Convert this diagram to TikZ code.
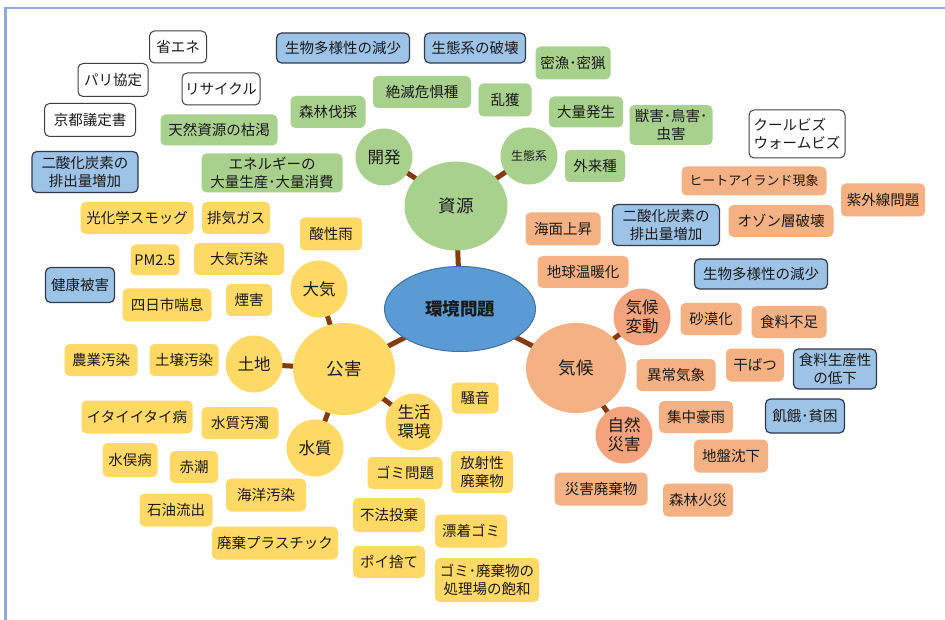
\documentclass[tikz,border=0pt]{standalone}
\usepackage{fontspec}
\newfontfamily\jp{Noto Sans CJK JP}
\usetikzlibrary{shapes.geometric,backgrounds}
\definecolor{gfill}{HTML}{A9D18E}
\definecolor{yfill}{HTML}{FFD966}
\definecolor{ofill}{HTML}{F4B183}
\definecolor{ocirc}{HTML}{F4A37C}
\definecolor{bfill}{HTML}{9DC3E6}
\definecolor{bdraw}{HTML}{2F3A4A}
\definecolor{conncol}{HTML}{843C0C}
\definecolor{efill}{HTML}{5B9BD5}
\definecolor{edraw}{HTML}{41719C}
\definecolor{framecol}{HTML}{8FAADC}
\definecolor{txt}{HTML}{1A1A1A}
\begin{document}
\begin{tikzpicture}[x=1pt,y=-1pt,
  box/.style={rectangle, rounded corners=5pt, inner sep=0pt, align=center,
    text=txt, font=\jp\fontsize{14.5}{17.5}\selectfont},
  sz/.style 2 args={minimum width=#1pt, minimum height=#2pt},
  gbox/.style={box, fill=gfill},
  ybox/.style={box, fill=yfill},
  obox/.style={box, fill=ofill},
  bbox/.style={box, fill=bfill, draw=bdraw, line width=1.2pt},
  wbox/.style={box, fill=white, draw=black!75, line width=1pt},
  hub/.style={circle, inner sep=0pt, minimum size=57pt, align=center, text=txt,
    font=\jp\fontsize{16.5}{19}\selectfont},
  bighub/.style={ellipse, inner sep=0pt, align=center, text=txt,
    font=\jp\fontsize{17.5}{20}\selectfont},
  link/.style={draw=conncol, line width=5pt}
]
\useasboundingbox (0,0) rectangle (945,620);

% ---------- white boxes ----------
\node[wbox, sz={57}{32}] (shoene) at (178,47) {省エネ};
\node[wbox, sz={70}{33}] (pari) at (113,80) {パリ協定};
\node[wbox, sz={78}{32}] (recycle) at (221,89) {リサイクル};
\node[wbox, sz={91}{33}] (kyoto) at (90,120) {京都議定書};
\node[wbox, sz={96}{48}, align=left] (coolbiz) at (797,134) {クールビズ\\ウォームビズ};

% ---------- blue boxes ----------
\node[bbox, sz={133}{30}] (bio1) at (343,48) {生物多様性の減少};
\node[bbox, sz={101}{30}] (eco1) at (475,48) {生態系の破壊};
\node[bbox, sz={106}{41}] (co2a) at (85,172) {二酸化炭素の\\排出量増加};
\node[bbox, sz={107}{41}] (co2b) at (666,225) {二酸化炭素の\\排出量増加};
\node[bbox, sz={133}{30}] (bio2) at (761,274) {生物多様性の減少};
\node[bbox, sz={69}{35}] (kenko) at (80,285) {健康被害};
\node[bbox, sz={83}{40}] (shokuryo) at (835,369) {食料生産性\\の低下};
\node[bbox, sz={79}{34}] (kiga) at (805,416) {飢餓･貧困};

% ---------- resources (green) ----------
\node[bighub, fill=gfill, minimum width=103pt, minimum height=89pt] (shigen) at (456,206) {資源};
\node[hub, fill=gfill] (kaihatsu) at (384,157) {開発};
\node[hub, fill=gfill, font=\jp\fontsize{12}{14}\selectfont] (seitaikei) at (529,156) {生態系};
\node[gbox, sz={117}{31}] (tennen) at (219,130) {天然資源の枯渇};
\node[gbox, sz={141}{39}] (energy) at (272,173) {エネルギーの\\大量生産･大量消費};
\node[gbox, sz={75}{33}] (mitsuryo) at (573,63) {密漁･密猟};
\node[gbox, sz={98}{32}] (zetsumetsu) at (422,92) {絶滅危惧種};
\node[gbox, sz={53}{33}] (rankaku) at (505,100) {乱獲};
\node[gbox, sz={74}{31}] (tairyo) at (586,112) {大量発生};
\node[gbox, sz={75}{32}] (shinrin) at (328,112) {森林伐採};
\node[gbox, sz={60}{32}] (gairai) at (595,166) {外来種};
\node[gbox, sz={83}{40}] (jugai) at (671,125) {獣害･鳥害･\\虫害};

% ---------- center ----------
\node[ellipse, fill=efill, draw=edraw, line width=1pt, minimum width=151pt, minimum height=85pt,
  inner sep=0pt, text=txt, font=\jp\bfseries\fontsize{17.5}{20}\selectfont] (kankyo) at (460,309) {環境問題};

% ---------- pollution (yellow) ----------
\node[bighub, fill=yfill, minimum width=102pt, minimum height=92pt] (kogai) at (344,369) {公害};
\node[hub, fill=yfill] (taiki) at (319,289) {大気};
\node[hub, fill=yfill] (tochi) at (254,364) {土地};
\node[hub, fill=yfill] (suishitsu) at (315,448) {水質};
\node[hub, fill=yfill] (seikatsu) at (414,422) {生活\\環境};
\node[ybox, sz={113}{32}] (smog) at (137,218) {光化学スモッグ};
\node[ybox, sz={68}{32}] (haiki) at (236,218) {排気ガス};
\node[ybox, sz={62}{33}] (sanseiu) at (331,234) {酸性雨};
\node[ybox, sz={49}{31}] (pm) at (155,260) {PM2.5};
\node[ybox, sz={90}{32}] (taikiosen) at (239,259) {大気汚染};
\node[ybox, sz={89}{33}] (yokkaichi) at (167,305) {四日市喘息};
\node[ybox, sz={46}{32}] (engai) at (249,300) {煙害};
\node[ybox, sz={73}{32}] (nogyo) at (101,360) {農業汚染};
\node[ybox, sz={69}{32}] (dojo) at (184,360) {土壌汚染};
\node[ybox, sz={111}{33}] (itai) at (137,417) {イタイイタイ病};
\node[ybox, sz={77}{32}] (suishitsuodaku) at (240,423) {水質汚濁};
\node[ybox, sz={55}{34}] (minamata) at (130,460) {水俣病};
\node[ybox, sz={48}{32}] (akashio) at (194,467) {赤潮};
\node[ybox, sz={80}{33}] (kaiyo) at (266,495) {海洋汚染};
\node[ybox, sz={73}{33}] (sekiyu) at (176,510) {石油流出};
\node[ybox, sz={126}{33}] (plastic) at (275,543) {廃棄プラスチック};
\node[ybox, sz={47}{31}] (soon) at (475,398) {騒音};
\node[ybox, sz={75}{32}] (gomi) at (405,473) {ゴミ問題};
\node[ybox, sz={62}{42}] (hoshasei) at (482,472) {放射性\\廃棄物};
\node[ybox, sz={72}{34}] (fuho) at (389,515) {不法投棄};
\node[ybox, sz={72}{33}] (hyochaku) at (471,531) {漂着ゴミ};
\node[ybox, sz={72}{32}] (poi) at (389,562) {ポイ捨て};
\node[ybox, sz={104}{44}] (shorijo) at (487,580) {ゴミ･廃棄物の\\処理場の飽和};

% ---------- climate (orange) ----------
\node[bighub, fill=ofill, minimum width=100pt, minimum height=90pt] (kiko) at (576,368) {気候};
\node[hub, fill=ocirc] (kikohendo) at (642,317) {気候\\変動};
\node[hub, fill=ocirc] (shizen) at (624,435) {自然\\災害};
\node[obox, sz={145}{29}, font=\jp\fontsize{13}{15}\selectfont] (heat) at (754,181) {ヒートアイランド現象};
\node[obox, sz={84}{33}] (shigaisen) at (883,200) {紫外線問題};
\node[obox, sz={105}{32}] (ozone) at (781,221) {オゾン層破壊};
\node[obox, sz={75}{33}] (kaimen) at (563,229) {海面上昇};
\node[obox, sz={91}{32}] (ondanka) at (583,272) {地球温暖化};
\node[obox, sz={61}{32}] (sabaku) at (711,319) {砂漠化};
\node[obox, sz={75}{32}] (fusoku) at (789,322) {食料不足};
\node[obox, sz={79}{32}] (ijo) at (676,375) {異常気象};
\node[obox, sz={58}{33}] (kanbatsu) at (755,365) {干ばつ};
\node[obox, sz={74}{32}] (gou) at (696,417) {集中豪雨};
\node[obox, sz={74}{33}] (jiban) at (731,456) {地盤沈下};
\node[obox, sz={93}{33}] (saigai) at (601,489) {災害廃棄物};
\node[obox, sz={70}{33}] (kasai) at (698,500) {森林火災};

% ---------- background: page, frame, connectors ----------
\begin{pgfonlayer}{background}
  \fill[white] (0,0) rectangle (945,620);
  \draw[framecol, line width=2.5pt] (5.5,620) -- (5.5,7.8) -- (945,7.8);
  \draw[link] (kankyo.center) -- (shigen.center);
  \draw[link] (kankyo.center) -- (kogai.center);
  \draw[link] (kankyo.center) -- (kiko.center);
  \draw[link] (shigen.center) -- (kaihatsu.center);
  \draw[link] (shigen.center) -- (seitaikei.center);
  \draw[link] (kogai.center) -- (taiki.center);
  \draw[link] (kogai.center) -- (tochi.center);
  \draw[link] (kogai.center) -- (suishitsu.center);
  \draw[link] (kogai.center) -- (seikatsu.center);
  \draw[link] (kiko.center) -- (kikohendo.center);
  \draw[link] (kiko.center) -- (shizen.center);
\end{pgfonlayer}
\end{tikzpicture}
\end{document}
